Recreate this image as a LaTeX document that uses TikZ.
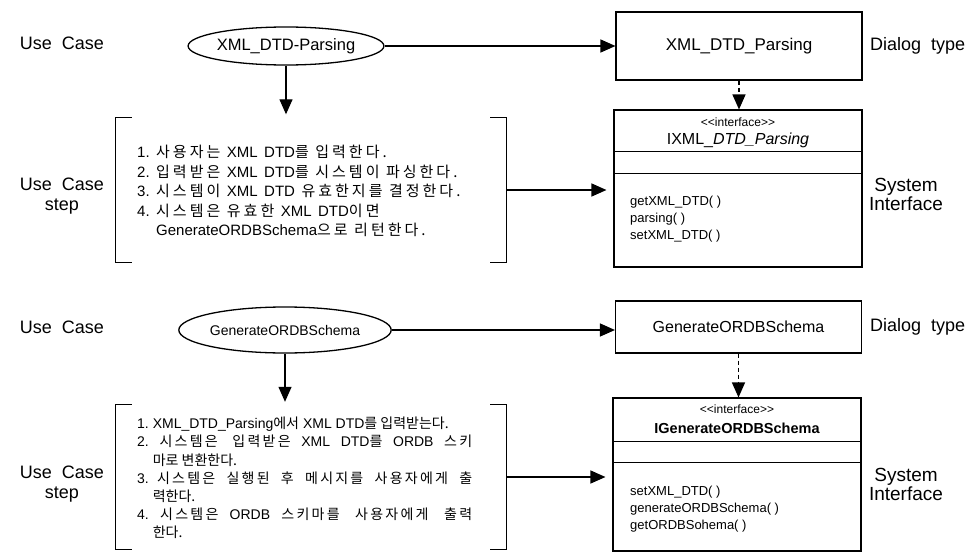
\documentclass[tikz,border=0pt]{standalone}
\usepackage{fontspec}
\setmainfont{Liberation Sans}
\newfontfamily\krfont{Noto Sans CJK KR}
\newfontfamily\krwide{Noto Sans CJK KR}[LetterSpace=20]
\newfontfamily\krmid{Noto Sans CJK KR}[LetterSpace=16]
\usetikzlibrary{arrows.meta,shapes.geometric}
\newcommand{\HG}[1]{{\krfont #1}}
\newcommand{\HW}[1]{{\krwide #1}}
\newcommand{\HM}[1]{{\krmid #1}}
\newcommand{\ind}{\phantom{2.~}}
\newcommand{\widesp}{\spaceskip=6.5pt plus 1pt\relax}
\begin{document}
\begin{tikzpicture}[x=1pt,y=-1pt,
  every node/.style={inner sep=0pt},
  lbl/.style={font=\fontsize{18}{20}\selectfont, align=center},
  usecase/.style={ellipse, draw, line width=1.3pt, minimum width=188pt},
  dlgbox/.style={draw, line width=1.1pt, minimum width=246pt},
  ifbox/.style={draw, line width=1.1pt, minimum width=248pt},
  sep/.style={line width=1.1pt},
  brk/.style={line width=1.3pt},
  arr/.style={line width=1.3pt, -{Triangle[length=15pt,width=13pt]}},
  darr/.style={arr, dash pattern=on 4pt off 3pt},
  stereo/.style={font=\fontsize{12}{14}\selectfont},
  steps/.style={align=left, anchor=north west},
  ops/.style={font=\fontsize{13}{17}\selectfont, align=left, anchor=north west},
]
\useasboundingbox (0,0) rectangle (975,554);

% ---------- top ----------
\node[lbl] (uc1lbl) at (62,43) {Use~~Case};
\node[usecase, minimum height=38pt, font=\fontsize{16.5}{19}\selectfont] (uc1) at (286,46) {XML\_DTD-Parsing};
\node[dlgbox, minimum height=68pt, font=\fontsize{17}{20}\selectfont] (dt1) at (739,46) {XML\_DTD\_Parsing};
\node[lbl, anchor=west] (dt1lbl) at (870,46) {Dialog~~type};

\node[ifbox, minimum height=157pt] (if1) at (738,188.5) {};
\draw[sep] ([yshift=-42pt]if1.north west) -- ([yshift=-42pt]if1.north east);
\draw[sep] ([yshift=-64pt]if1.north west) -- ([yshift=-64pt]if1.north east);
\node[stereo] (if1st) at (738,122) {<\kern0pt<interface>\kern0pt>};
\node[font=\fontsize{16}{18}\selectfont] (if1nm) at (738,140) {IXML\_{\itshape DTD\_Parsing}};
\node[ops] (if1ops) at (630,196) {getXML\_DTD( )\\parsing( )\\setXML\_DTD( )};
\node[lbl, font=\fontsize{19}{19}\selectfont] (if1lbl) at (906,194) {System\\Interface};

\node[lbl] (st1lbl) at (62,196) {Use~~Case\\step};
\node[minimum width=390pt, minimum height=145pt] (st1) at (311,190) {};
\draw[brk] ([xshift=16pt]st1.north west) -- (st1.north west) -- (st1.south west) -- ([xshift=16pt]st1.south west);
\draw[brk] ([xshift=-16pt]st1.north east) -- (st1.north east) -- (st1.south east) -- ([xshift=-16pt]st1.south east);
\node[steps, font={\fontsize{15}{19.5}\selectfont\widesp}] (st1txt) at (137,145) {%
1.~\HW{사용자는} XML DTD\HW{를 입력한다.}\\
2.~\HW{입력받은} XML DTD\HW{를 시스템이 파싱한다.}\\
3.~\HW{시스템이} XML DTD \HW{유효한지를 결정한다.}\\
4.~\HW{시스템은 유효한} XML DTD\HW{이면}\\
\ind GenerateORDBSchema\HW{으로 리턴한다.}};

\draw[arr] (uc1) -- (dt1);
\draw[arr, shorten >=3pt] (uc1.south) -- (uc1.south |- st1.north);
\draw[darr] (dt1.south) -- (dt1.south |- if1.north);
\draw[arr, shorten >=7pt] (st1.east) -- (st1.east -| if1.west);

% ---------- bottom ----------
\node[lbl] (uc2lbl) at (62,327) {Use~~Case};
\node[usecase, minimum height=46pt, font=\fontsize{14}{17}\selectfont] (uc2) at (285,330) {GenerateORDBSchema};
\node[dlgbox, minimum height=52pt, font=\fontsize{16}{19}\selectfont] (dt2) at (738.5,327) {GenerateORDBSchema};
\node[lbl, anchor=west] (dt2lbl) at (870,327) {Dialog~~type};

\node[ifbox, minimum height=153pt] (if2) at (737,474.5) {};
\draw[sep] ([yshift=-44pt]if2.north west) -- ([yshift=-44pt]if2.north east);
\draw[sep] ([yshift=-65pt]if2.north west) -- ([yshift=-65pt]if2.north east);
\node[stereo] (if2st) at (737,409) {<\kern0pt<interface>\kern0pt>};
\node[font=\bfseries\fontsize{14.5}{16}\selectfont] (if2nm) at (737,428) {IGenerateORDBSchema};
\node[ops] (if2ops) at (630,486) {setXML\_DTD( )\\generateORDBSchema( )\\getORDBSohema( )};
\node[lbl, font=\fontsize{19}{19}\selectfont] (if2lbl) at (906,484) {System\\Interface};

\node[lbl] (st2lbl) at (62,484) {Use~~Case\\step};
\node[minimum width=390pt, minimum height=144pt] (st2) at (311,477) {};
\draw[brk] ([xshift=16pt]st2.north west) -- (st2.north west) -- (st2.south west) -- ([xshift=16pt]st2.south west);
\draw[brk] ([xshift=-16pt]st2.north east) -- (st2.north east) -- (st2.south east) -- ([xshift=-16pt]st2.south east);
\node[steps, font=\fontsize{14}{18.2}\selectfont] (st2txt) at (137,417) {%
1.~XML\_DTD\_Parsing\HG{에서} XML DTD\HG{를 입력받는다.}\\
\makebox[335pt][s]{2.~\HM{시스템은 입력받은} XML DTD\HM{를} ORDB \HM{스키}}\\
\ind\HG{마로 변환한다.}\\
\makebox[335pt][s]{3.~\HM{시스템은 실행된 후 메시지를 사용자에게 출}}\\
\ind\HG{력한다.}\\
\makebox[335pt][s]{4.~\HM{시스템은} ORDB \HM{스키마를 사용자에게 출력}}\\
\ind\HG{한다.}};

\draw[arr] (uc2) -- (uc2 -| dt2.west);
\draw[arr, shorten >=3pt] (uc2.south) -- (uc2.south |- st2.north);
\draw[darr] (dt2.south) -- (dt2.south |- if2.north);
\draw[arr, shorten >=7pt] (st2.east) -- (st2.east -| if2.west);
\end{tikzpicture}
\end{document}
